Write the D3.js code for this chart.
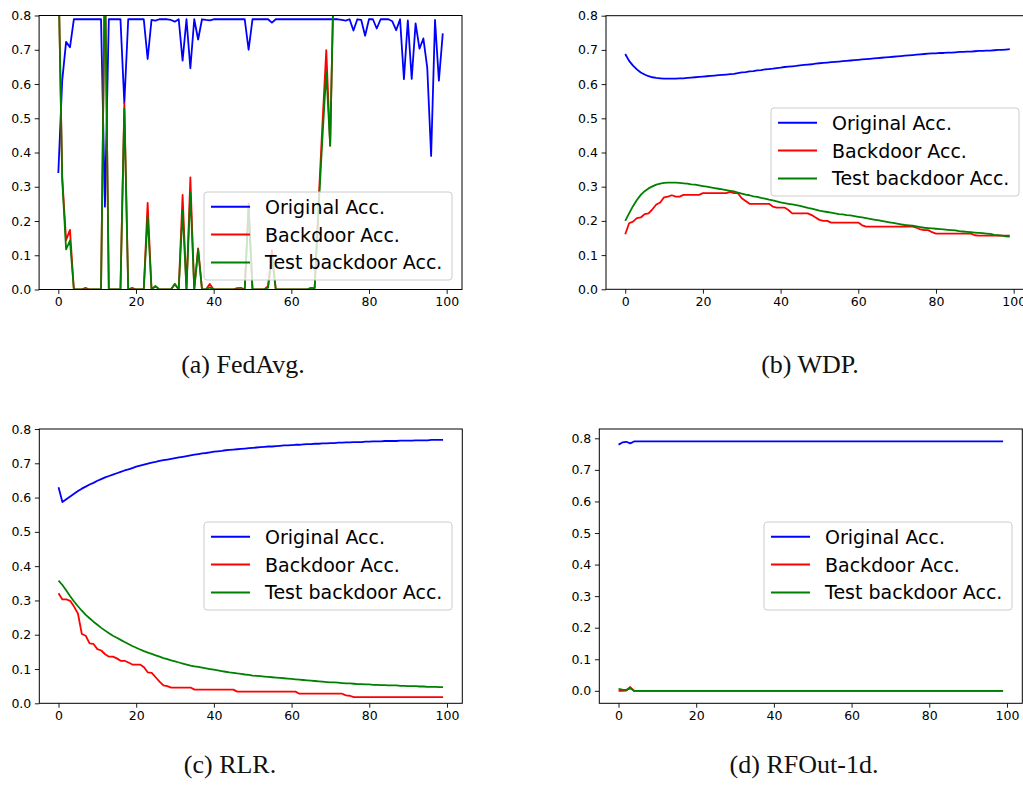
<!DOCTYPE html>
<html><head><meta charset="utf-8">
<script src="https://cdn.jsdelivr.net/npm/d3@7"></script>
<style>
html,body{margin:0;padding:0;background:#fff;}
svg{display:block;}
</style></head>
<body>
<svg id="chart" width="1023" height="791"></svg>
<script>
// ---------- DATA ----------
const rounds = d3.range(0, 100);
const xTicks = [0, 20, 40, 60, 80, 100];
const yTicks = [0.0, 0.1, 0.2, 0.3, 0.4, 0.5, 0.6, 0.7, 0.8];
const seriesNames = ["Original Acc.", "Backdoor Acc.", "Test backdoor Acc."];
const captions = ["(a) FedAvg.", "(b) WDP.", "(c) RLR.", "(d) RFOut-1d."];

// (a) FedAvg
const fedavgOriginal = [0.34,0.61,0.723,0.707,0.789,0.789,0.789,0.789,0.789,0.789,
0.789,0.789,0.242,0.789,0.789,0.789,0.789,0.544,0.789,0.789,
0.789,0.789,0.789,0.673,0.787,0.785,0.789,0.789,0.789,0.787,
0.782,0.789,0.668,0.789,0.646,0.789,0.73,0.789,0.787,0.786,
0.789,0.789,0.789,0.789,0.789,0.789,0.789,0.789,0.789,0.70,
0.789,0.789,0.789,0.789,0.789,0.779,0.789,0.789,0.789,0.789,
0.789,0.789,0.789,0.789,0.789,0.789,0.789,0.789,0.789,0.789,
0.789,0.789,0.789,0.787,0.785,0.789,0.756,0.789,0.787,0.741,
0.789,0.789,0.762,0.789,0.789,0.789,0.783,0.757,0.789,0.614,
0.786,0.615,0.777,0.703,0.733,0.648,0.39,0.787,0.61,0.748];
const fedavgBackdoor = [0.95,0.33,0.144,0.174,0,0,0,0.005,0,0,
0,0,0.95,0,0,0,0,0.544,0,0.005,
0,0,0,0.253,0,0.01,0,0,0,0,
0.016,0,0.276,0,0.327,0,0.12,0,0,0.016,
0,0,0,0,0,0,0.004,0.005,0,0.25,
0,0,0,0,0.01,0.115,0,0,0,0,
0,0,0,0,0,0.003,0.005,0.25,0.48,0.699,
0.42,0.96,0.97,0.97,0.96,0.97,0.97,0.96,0.97,0.97,
0.96,0.97,0.97,0.96,0.97,0.97,0.96,0.97,0.97,0.96,
0.97,0.97,0.96,0.97,0.97,0.96,0.97,0.97,0.96,0.97];
const fedavgTest = [0.95,0.32,0.117,0.143,0,0,0,0,0,0,
0,0,0.95,0,0,0,0,0.529,0,0,
0,0,0,0.215,0,0.01,0,0,0,0,
0.016,0,0.23,0,0.283,0,0.117,0,0,0.006,
0,0,0,0,0,0,0,0,0,0.238,
0,0,0,0,0.005,0.09,0,0,0,0,
0,0,0,0,0,0.005,0.003,0.23,0.44,0.636,
0.42,0.96,0.97,0.97,0.96,0.97,0.97,0.96,0.97,0.97,
0.96,0.97,0.97,0.96,0.97,0.97,0.96,0.97,0.97,0.96,
0.97,0.97,0.96,0.97,0.97,0.96,0.97,0.97,0.96,0.97];

// (b) WDP
const wdpOriginal = [0.688,0.668,0.654,0.643,0.634,0.628,0.623,0.620,0.618,0.617,
0.616,0.616,0.616,0.616,0.617,0.617,0.618,0.619,0.620,0.621,
0.622,0.623,0.624,0.625,0.626,0.627,0.628,0.629,0.630,0.632,
0.634,0.635,0.637,0.638,0.640,0.641,0.643,0.644,0.645,0.647,
0.648,0.650,0.651,0.652,0.653,0.655,0.656,0.657,0.658,0.660,
0.661,0.662,0.663,0.664,0.665,0.666,0.667,0.668,0.669,0.670,
0.671,0.672,0.673,0.674,0.675,0.676,0.677,0.678,0.679,0.680,
0.681,0.682,0.683,0.684,0.685,0.686,0.687,0.688,0.689,0.690,
0.690,0.691,0.691,0.692,0.692,0.693,0.694,0.694,0.695,0.695,
0.696,0.697,0.697,0.698,0.698,0.699,0.700,0.700,0.701,0.702];
const wdpBackdoor = [0.161,0.193,0.198,0.208,0.210,0.220,0.222,0.234,0.248,0.254,
0.269,0.271,0.275,0.271,0.271,0.276,0.276,0.276,0.276,0.276,
0.281,0.281,0.281,0.281,0.281,0.281,0.281,0.285,0.281,0.281,
0.266,0.258,0.250,0.250,0.250,0.250,0.250,0.250,0.242,0.239,
0.239,0.239,0.232,0.222,0.222,0.222,0.222,0.222,0.217,0.210,
0.203,0.200,0.200,0.195,0.195,0.195,0.195,0.195,0.195,0.195,
0.195,0.187,0.183,0.183,0.183,0.183,0.183,0.183,0.183,0.183,
0.183,0.183,0.183,0.183,0.183,0.180,0.175,0.173,0.173,0.167,
0.163,0.163,0.163,0.163,0.163,0.163,0.163,0.163,0.163,0.163,
0.158,0.157,0.157,0.157,0.157,0.157,0.157,0.157,0.157,0.157];
const wdpTest = [0.200,0.222,0.243,0.261,0.276,0.287,0.295,0.301,0.306,0.309,
0.311,0.312,0.312,0.312,0.311,0.310,0.309,0.307,0.306,0.304,
0.302,0.300,0.298,0.296,0.294,0.292,0.290,0.288,0.286,0.283,
0.280,0.277,0.275,0.272,0.270,0.267,0.265,0.262,0.260,0.257,
0.254,0.252,0.250,0.248,0.246,0.244,0.241,0.238,0.236,0.233,
0.230,0.228,0.226,0.224,0.222,0.220,0.219,0.217,0.216,0.214,
0.212,0.210,0.208,0.206,0.204,0.202,0.200,0.198,0.196,0.194,
0.192,0.190,0.188,0.187,0.186,0.184,0.182,0.180,0.179,0.178,
0.177,0.176,0.175,0.174,0.173,0.172,0.170,0.169,0.168,0.167,
0.166,0.165,0.164,0.163,0.162,0.159,0.158,0.157,0.155,0.154];

// (c) RLR
const rlrOriginal = [0.630,0.587,0.595,0.603,0.611,0.619,0.626,0.632,0.638,0.643,
0.649,0.654,0.659,0.663,0.667,0.671,0.675,0.679,0.682,0.686,
0.690,0.693,0.696,0.699,0.702,0.704,0.707,0.709,0.711,0.713,
0.715,0.717,0.719,0.721,0.723,0.725,0.727,0.729,0.730,0.732,
0.734,0.735,0.736,0.738,0.739,0.740,0.741,0.742,0.743,0.744,
0.745,0.746,0.747,0.748,0.749,0.749,0.750,0.751,0.752,0.752,
0.753,0.754,0.754,0.755,0.756,0.756,0.757,0.757,0.758,0.758,
0.759,0.759,0.760,0.760,0.761,0.761,0.762,0.762,0.762,0.763,
0.763,0.764,0.764,0.764,0.765,0.765,0.765,0.765,0.766,0.766,
0.766,0.766,0.767,0.767,0.767,0.767,0.768,0.768,0.768,0.768];
const rlrBackdoor = [0.321,0.303,0.303,0.299,0.282,0.262,0.202,0.197,0.175,0.173,
0.158,0.154,0.143,0.136,0.136,0.131,0.124,0.124,0.119,0.113,
0.113,0.113,0.105,0.090,0.089,0.076,0.063,0.052,0.050,0.046,
0.046,0.046,0.046,0.046,0.046,0.040,0.040,0.040,0.040,0.040,
0.040,0.040,0.040,0.040,0.040,0.040,0.034,0.034,0.034,0.034,
0.034,0.034,0.034,0.034,0.034,0.034,0.034,0.034,0.034,0.034,
0.034,0.034,0.028,0.028,0.028,0.028,0.028,0.028,0.028,0.028,
0.028,0.028,0.028,0.028,0.023,0.022,0.018,0.018,0.018,0.018,
0.018,0.018,0.018,0.018,0.018,0.018,0.018,0.018,0.018,0.018,
0.018,0.018,0.018,0.018,0.018,0.018,0.018,0.018,0.018,0.018];
const rlrTest = [0.358,0.345,0.329,0.312,0.297,0.283,0.270,0.258,0.248,0.238,
0.229,0.220,0.212,0.204,0.197,0.191,0.185,0.179,0.173,0.167,
0.162,0.157,0.152,0.148,0.144,0.140,0.136,0.132,0.129,0.125,
0.122,0.119,0.116,0.113,0.110,0.108,0.106,0.104,0.102,0.100,
0.098,0.096,0.094,0.092,0.090,0.089,0.087,0.086,0.084,0.083,
0.081,0.080,0.079,0.078,0.077,0.076,0.075,0.074,0.073,0.072,
0.071,0.070,0.069,0.068,0.067,0.066,0.065,0.064,0.063,0.062,
0.061,0.061,0.060,0.059,0.058,0.058,0.057,0.056,0.056,0.055,
0.055,0.054,0.054,0.053,0.053,0.052,0.052,0.052,0.051,0.051,
0.050,0.050,0.050,0.049,0.049,0.048,0.048,0.048,0.047,0.047];

// (d) RFOut-1d
const rfoutOriginal = [0.780,0.787,0.789,0.784,0.790,0.790,0.790,0.790,0.790,0.790,
0.790,0.790,0.790,0.790,0.790,0.790,0.790,0.790,0.790,0.790,
0.790,0.790,0.790,0.790,0.790,0.790,0.790,0.790,0.790,0.790,
0.790,0.790,0.790,0.790,0.790,0.790,0.790,0.790,0.790,0.790,
0.790,0.790,0.790,0.790,0.790,0.790,0.790,0.790,0.790,0.790,
0.790,0.790,0.790,0.790,0.790,0.790,0.790,0.790,0.790,0.790,
0.790,0.790,0.790,0.790,0.790,0.790,0.790,0.790,0.790,0.790,
0.790,0.790,0.790,0.790,0.790,0.790,0.790,0.790,0.790,0.790,
0.790,0.790,0.790,0.790,0.790,0.790,0.790,0.790,0.790,0.790,
0.790,0.790,0.790,0.790,0.790,0.790,0.790,0.790,0.790,0.790];
const rfoutBackdoor = [0,0,0.001,0.012,0,0,0,0,0,0,
0,0,0,0,0,0,0,0,0,0, 0,0,0,0,0,0,0,0,0,0,
0,0,0,0,0,0,0,0,0,0, 0,0,0,0,0,0,0,0,0,0,
0,0,0,0,0,0,0,0,0,0, 0,0,0,0,0,0,0,0,0,0,
0,0,0,0,0,0,0,0,0,0, 0,0,0,0,0,0,0,0,0,0,
0,0,0,0,0,0,0,0,0,0];
const rfoutTest = [0.006,0.004,0.003,0.008,0,0,0,0,0,0,
0,0,0,0,0,0,0,0,0,0, 0,0,0,0,0,0,0,0,0,0,
0,0,0,0,0,0,0,0,0,0, 0,0,0,0,0,0,0,0,0,0,
0,0,0,0,0,0,0,0,0,0, 0,0,0,0,0,0,0,0,0,0,
0,0,0,0,0,0,0,0,0,0, 0,0,0,0,0,0,0,0,0,0,
0,0,0,0,0,0,0,0,0,0];

// ---------- LAYOUT ----------
const colors = ["#0000ff", "#ff0000", "#008000"];
const panels = [
  {series:[fedavgOriginal, fedavgBackdoor, fedavgTest], l:39.1, r:462, t:15.5, b:289.5, y:[0,0.8], leg:[204,192], cap:[243,373]},
  {series:[wdpOriginal, wdpBackdoor, wdpTest], l:606, r:1029, t:15.7, b:289.3, y:[0,0.8], leg:[771,108], cap:[810,373]},
  {series:[rlrOriginal, rlrBackdoor, rlrTest], l:39.3, r:462.3, t:429, b:703.3, y:[0,0.8], leg:[204,522], cap:[230,773]},
  {series:[rfoutOriginal, rfoutBackdoor, rfoutTest], l:599.3, r:1022.3, t:429, b:703.3, y:[-0.0395,0.8295], leg:[764,522], cap:[804,773]}
];

const svg = d3.select("#chart");
svg.append("rect").attr("width",1023).attr("height",791).attr("fill","#fff");
const defs = svg.append("defs");

panels.forEach((p, k) => {
  const x = d3.scaleLinear().domain([-4.95, 103.95]).range([p.l, p.r]);
  const y = d3.scaleLinear().domain(p.y).range([p.b, p.t]);
  const g = svg.append("g");

  defs.append("clipPath").attr("id","clip"+k)
    .append("rect").attr("x",p.l).attr("y",p.t).attr("width",p.r-p.l).attr("height",p.b-p.t);

  // axes
  const ax = g.append("g").attr("transform",`translate(0,${p.b})`)
    .call(d3.axisBottom(x).tickValues(xTicks).tickFormat(d3.format("d")).tickSize(4.4).tickPadding(3.6));
  const ay = g.append("g").attr("transform",`translate(${p.l},0)`)
    .call(d3.axisLeft(y).tickValues(yTicks).tickFormat(d3.format(".1f")).tickSize(4.4).tickPadding(3.6));
  [ax, ay].forEach(a => {
    a.select(".domain").remove();
    a.selectAll(".tick line").attr("stroke","#000").attr("stroke-width",0.9);
    a.selectAll(".tick text").attr("fill","#000").style("font-family","'DejaVu Sans'").style("font-size","12.5px");
  });

  // lines
  const line = d3.line().x((d,i) => x(rounds[i])).y(d => y(d));
  const lg = g.append("g").attr("clip-path",`url(#clip${k})`);
  p.series.forEach((s, j) => {
    lg.append("path").datum(s).attr("d", line).attr("fill","none")
      .attr("stroke", colors[j]).attr("stroke-width",1.8).attr("stroke-linejoin","round");
  });

  // frame
  g.append("rect").attr("x",p.l).attr("y",p.t).attr("width",p.r-p.l).attr("height",p.b-p.t)
    .attr("fill","none").attr("stroke","#000").attr("stroke-width",1);

  // legend
  const [lx, ly] = p.leg;
  const leg = g.append("g").attr("transform",`translate(${lx},${ly})`);
  leg.append("rect").attr("x",0).attr("y",0).attr("width",248).attr("height",88)
    .attr("rx",3).attr("ry",3).attr("fill","#fff").attr("fill-opacity",0.8)
    .attr("stroke","#cccccc").attr("stroke-width",1);
  seriesNames.forEach((name, j) => {
    const ry = 14.8 + j*27.8;
    leg.append("line").attr("x1",7).attr("x2",46).attr("y1",ry).attr("y2",ry)
      .attr("stroke",colors[j]).attr("stroke-width",2);
    leg.append("text").attr("x",61).attr("y",ry+7)
      .style("font-family","'DejaVu Sans'").style("font-size","19px").attr("fill","#000")
      .text(name);
  });

  // caption
  svg.append("text").attr("x",p.cap[0]).attr("y",p.cap[1]).attr("text-anchor","middle")
    .style("font-family","'Liberation Serif', serif").style("font-size","26px").attr("fill","#111")
    .text(captions[k]);
});
</script>
</body></html>
